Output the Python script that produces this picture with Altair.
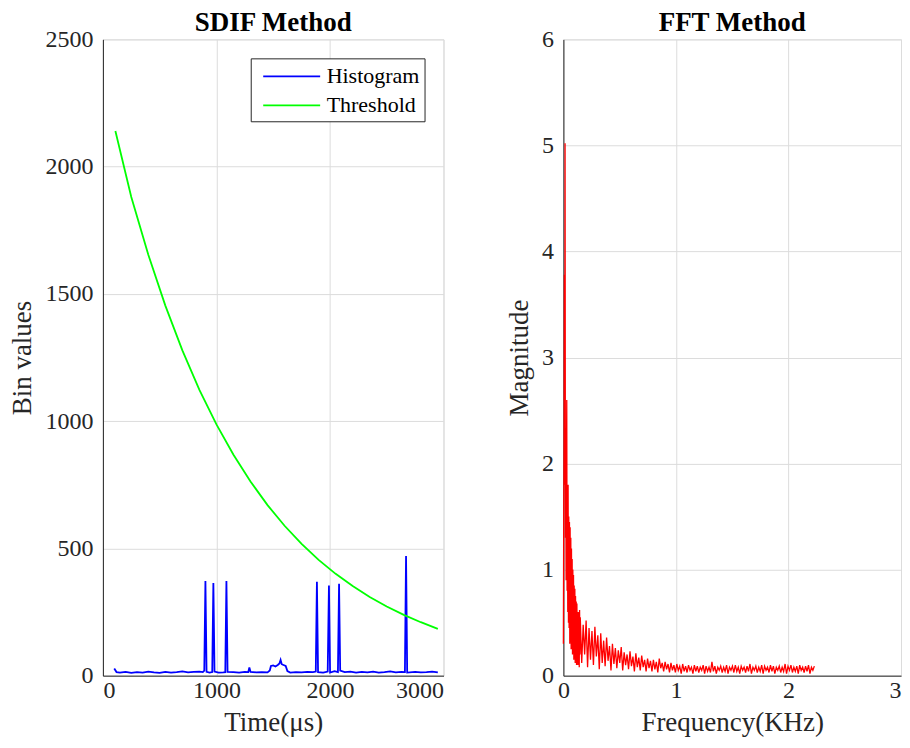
import altair as alt
import pandas as pd

# ---------------- data ----------------
hist_time = [100, 120, 150, 200, 250, 300, 350, 400, 450, 500, 550, 600, 650, 700, 750,
             800, 850, 880, 893, 903, 913, 940, 963, 973, 983, 1020, 1060, 1078, 1088,
             1098, 1150, 1200, 1250, 1280, 1290, 1300, 1350, 1400, 1450, 1470, 1480,
             1500, 1520, 1540, 1555, 1565, 1575, 1590, 1610, 1625, 1650, 1700, 1750,
             1800, 1850, 1875, 1885, 1895, 1940, 1980, 1991, 2001, 2040, 2070, 2080,
             2090, 2130, 2180, 2230, 2280, 2330, 2380, 2430, 2480, 2530, 2580, 2630,
             2660, 2670, 2680, 2750, 2800, 2850, 2900, 2950]
hist_value = [28, 14, 12, 15, 11, 14, 12, 16, 13, 11, 15, 12, 14, 17, 13,
              15, 16, 14, 20, 372, 15, 12, 14, 364, 16, 12, 13, 14, 372,
              15, 14, 12, 15, 14, 32, 15, 13, 14, 13, 20, 38,
              40, 36, 42, 48, 62, 45, 42, 38, 18, 12, 14, 13,
              15, 14, 16, 369, 14, 12, 16, 354, 12, 18, 14, 361,
              20, 14, 16, 12, 15, 13, 16, 12, 14, 17, 13, 15,
              14, 470, 12, 15, 13, 14, 16, 13]

thresh_time = [110, 250, 400, 550, 700, 850, 1000, 1150, 1300, 1450, 1600, 1750,
               1900, 2050, 2200, 2350, 2500, 2650, 2800, 2950]
thresh_value = [2140, 1881, 1654, 1454, 1278, 1123, 987, 868, 763, 670, 589, 518,
                455, 400, 352, 309, 272, 239, 210, 184]

series_names = ["Histogram", "Threshold"]
series_colors = ["#0000ff", "#00ff00"]

# FFT: fine bins near DC, coarser bins beyond 0.15 KHz
fft_low_step = 0.003
fft_low_mag = [0.3, 1.5, 2.2, 3.78, 1.8, 5.02, 1.3, 2.1, 0.9, 1.9,
               2.6, 0.8, 1.75, 0.6, 1.8, 0.5, 1.5, 0.45, 1.45, 0.3,
               1.4, 0.5, 1.3, 0.25, 1.2, 0.4, 1.1, 0.2, 1.0, 0.35,
               0.95, 0.15, 0.85, 0.3, 0.82, 0.12, 0.75, 0.25, 0.7, 0.1,
               0.68, 0.3, 0.55, 0.1, 0.6, 0.2, 0.5, 0.08, 0.62, 0.2]
fft_high_start = 0.15
fft_high_step = 0.013
fft_high_mag = [0.55, 0.12, 0.48, 0.2, 0.52, 0.08, 0.45, 0.15,
                0.42, 0.1, 0.46, 0.18, 0.38, 0.06, 0.4, 0.12,
                0.33, 0.09, 0.36, 0.14, 0.28, 0.05, 0.3, 0.11,
                0.26, 0.07, 0.24, 0.12, 0.27, 0.05, 0.22, 0.1,
                0.2, 0.06, 0.23, 0.09, 0.18, 0.04, 0.21, 0.08,
                0.17, 0.05, 0.19, 0.08, 0.15, 0.04, 0.16, 0.07,
                0.14, 0.04, 0.15, 0.06, 0.13, 0.03, 0.16, 0.07,
                0.12, 0.04, 0.13, 0.06, 0.11, 0.03, 0.12, 0.05,
                0.1, 0.03, 0.11, 0.05, 0.09, 0.02, 0.11, 0.04,
                0.09, 0.03, 0.1, 0.05, 0.08, 0.02, 0.1, 0.04,
                0.09, 0.03, 0.08, 0.05, 0.1, 0.02, 0.09, 0.04,
                0.08, 0.03, 0.13, 0.04, 0.09, 0.02, 0.08, 0.05,
                0.09, 0.03, 0.08, 0.04, 0.1, 0.02, 0.08, 0.05,
                0.09, 0.03, 0.1, 0.04, 0.08, 0.02, 0.09, 0.05,
                0.08, 0.03, 0.09, 0.04, 0.11, 0.02, 0.08, 0.05,
                0.09, 0.03, 0.08, 0.04, 0.1, 0.02, 0.09, 0.05,
                0.08, 0.03, 0.1, 0.04, 0.09, 0.02, 0.08, 0.05,
                0.09, 0.03, 0.08, 0.04, 0.11, 0.02, 0.09, 0.05,
                0.1, 0.03, 0.08, 0.04, 0.09, 0.02, 0.1, 0.05,
                0.08, 0.03, 0.09, 0.04, 0.1, 0.02, 0.08, 0.05, 0.09]

# ---------------- tables ----------------
df_left = pd.concat([
    pd.DataFrame({"t": hist_time, "v": hist_value, "series": series_names[0], "o": range(len(hist_time))}),
    pd.DataFrame({"t": thresh_time, "v": thresh_value, "series": series_names[1], "o": range(len(thresh_time))}),
])

fft_freq = [round(i * fft_low_step, 4) for i in range(len(fft_low_mag))] + \
           [round(fft_high_start + i * fft_high_step, 4) for i in range(len(fft_high_mag))]
df_right = pd.DataFrame({"f": fft_freq, "m": fft_low_mag + fft_high_mag, "o": range(len(fft_freq))})

FONT = "Liberation Serif"
AX = "#262626"

def axis(values, title, title_pad=6, label_pad=5, **kw):
    return alt.Axis(values=values, title=title, format="d", grid=True,
                    gridColor="#dcdcdc", gridWidth=1, domainColor=AX, ticks=False,
                    labelFontSize=24, labelColor=AX, titleFontSize=27,
                    titleFontWeight="normal", titleColor=AX, labelFont=FONT, titleFont=FONT,
                    labelPadding=label_pad, titlePadding=title_pad, **kw)

legend = alt.Legend(title=None, orient="top-right", offset=19,
                    fillColor="white", strokeColor=AX, padding=5,
                    labelFontSize=22, labelFont=FONT, labelColor="black",
                    symbolType="M-2.375,0H2.375", symbolSize=576,
                    symbolOffset=23, symbolStrokeWidth=1.8,
                    rowPadding=5, labelOffset=22)

left = alt.Chart(df_left).mark_line(strokeWidth=1.8).encode(
    x=alt.X("t:Q", scale=alt.Scale(domain=[0, 3000], nice=False),
            axis=axis([0, 1000, 2000, 3000], "Time(μs)", title_pad=7, label_pad=3)),
    y=alt.Y("v:Q", scale=alt.Scale(domain=[0, 2500], nice=False),
            axis=axis([0, 500, 1000, 1500, 2000, 2500], "Bin values", title_pad=8, label_pad=10)),
    color=alt.Color("series:N", scale=alt.Scale(domain=series_names, range=series_colors),
                    legend=legend),
    order="o:Q",
).properties(width=341, height=637,
             title=alt.TitleParams("SDIF Method", fontSize=27, font=FONT,
                                   fontWeight="bold", color="black", offset=-10))

right = alt.Chart(df_right).mark_line(strokeWidth=1.3, color="#ff0000").encode(
    x=alt.X("f:Q", scale=alt.Scale(domain=[0, 3], nice=False),
            axis=axis([0, 1, 2, 3], "Frequency(KHz)", title_pad=7, label_pad=3,
                      labelAlign={"condition": {"test": "datum.value == 3", "value": "right"},
                                  "value": "center"})),
    y=alt.Y("m:Q", scale=alt.Scale(domain=[0, 6], nice=False),
            axis=axis([0, 1, 2, 3, 4, 5, 6], "Magnitude", title_pad=8, label_pad=10)),
    order="o:Q",
).properties(width=338, height=637,
             title=alt.TitleParams("FFT Method", fontSize=27, font=FONT,
                                   fontWeight="bold", color="black", offset=-10))

chart = alt.hconcat(left, right, spacing=120, bounds="flush").resolve_scale(
    color="independent"
).resolve_legend(color="independent").properties(padding=0).configure_view(
    stroke=AX, strokeWidth=1
).configure(font=FONT, background="white")

chart.save("out.html", embed_options={"renderer": "svg", "actions": False})
